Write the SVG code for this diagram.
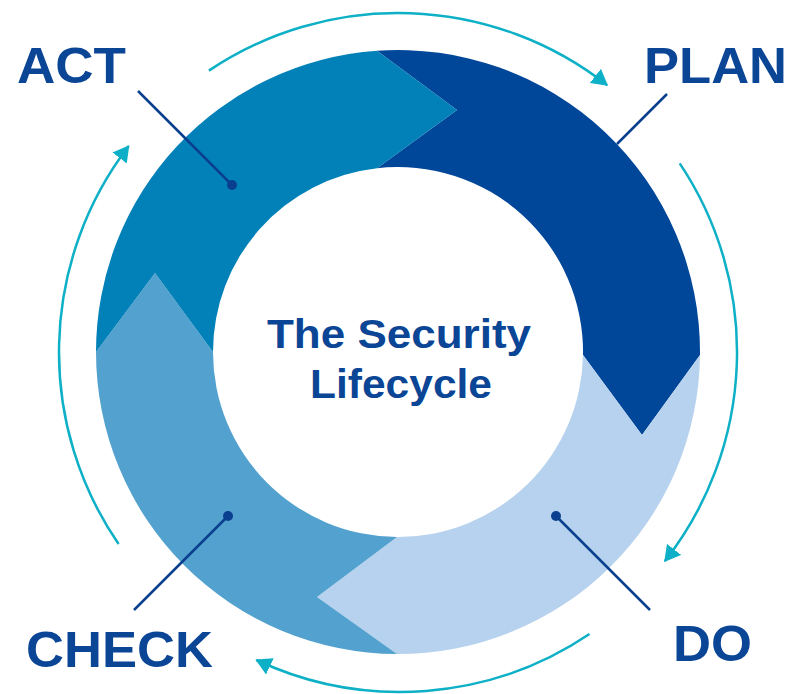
<svg xmlns="http://www.w3.org/2000/svg" width="793" height="694" viewBox="0 0 793 694">
<defs>
<style>
.lbl{font-family:"Liberation Sans",Arial,sans-serif;font-weight:bold;fill:#0A4596;font-size:50px}
.ctr{font-family:"Liberation Sans",Arial,sans-serif;font-weight:bold;fill:#0A4596;font-size:40px;text-anchor:middle}
.cyc{fill:none;stroke:#0DB0C6;stroke-width:2.5}
.lead{stroke:#0A3F8F;stroke-width:2.5;fill:none}
.dot{fill:#0A3F8F}
</style>
<marker id="ah" viewBox="0 0 16 18" refX="15" refY="9" markerWidth="16" markerHeight="18" markerUnits="userSpaceOnUse" orient="auto">
<path d="M0,0 L16,9 L0,18 Z" fill="#0DB0C6"/>
</marker>
</defs>
<rect width="793" height="694" fill="#ffffff"/>
<g id="plan">
<path d="M377,50.73 A302,302 0 0 1 700,355 L642,435 L583,355 A185,185 0 0 0 377,168.2 L457,110 Z" fill="#00479A"/>
</g>
<g id="do">
<path d="M700,355 A302,302 0 0 1 397,654 L317,597 L397,537 A185,185 0 0 0 583,355 L642,435 Z" fill="#B7D2EE"/>
</g>
<g id="check">
<path d="M397,654 A302,302 0 0 1 96,352 L155,273 L213,352 A185,185 0 0 0 397,537 L317,597 Z" fill="#52A1CE"/>
</g>
<g id="act">
<path d="M96,352 A302,302 0 0 1 377,50.73 L457,110 L377,168.2 A185,185 0 0 0 213,352 L155,273 Z" fill="#0280B8"/>
</g>
<g id="connectors">
<path class="cyc" d="M208.9,70.6 A339,339 0 0 1 607.2,85.2" marker-end="url(#ah)"/>
<path class="cyc" d="M679.7,163.4 A339,339 0 0 1 664.8,561.2" marker-end="url(#ah)"/>
<path class="cyc" d="M589.5,634 A339,339 0 0 1 256.3,660" marker-end="url(#ah)"/>
<path class="cyc" d="M118.6,544 A339,339 0 0 1 128.7,146.1" marker-end="url(#ah)"/>
<line class="lead" x1="138" y1="91" x2="232" y2="185"/>
<circle class="dot" cx="232" cy="185" r="5"/>
<line class="lead" x1="667" y1="94" x2="617" y2="144"/>
<line class="lead" x1="650" y1="610" x2="556" y2="516"/>
<circle class="dot" cx="556" cy="516" r="5"/>
<line class="lead" x1="134" y1="610" x2="228" y2="516"/>
<circle class="dot" cx="228" cy="516" r="5"/>
</g>
<g id="labels">
<text class="lbl" x="17" y="83" textLength="109" lengthAdjust="spacingAndGlyphs">ACT</text>
<text class="lbl" x="644" y="83" textLength="143" lengthAdjust="spacingAndGlyphs">PLAN</text>
<text class="lbl" x="673" y="661" textLength="79" lengthAdjust="spacingAndGlyphs">DO</text>
<text class="lbl" x="26" y="667" textLength="187" lengthAdjust="spacingAndGlyphs">CHECK</text>
</g>
<g id="center">
<text class="ctr" x="399" y="348" textLength="264" lengthAdjust="spacingAndGlyphs">The Security</text>
<text class="ctr" x="401" y="398" textLength="182" lengthAdjust="spacingAndGlyphs">Lifecycle</text>
</g>
</svg>
